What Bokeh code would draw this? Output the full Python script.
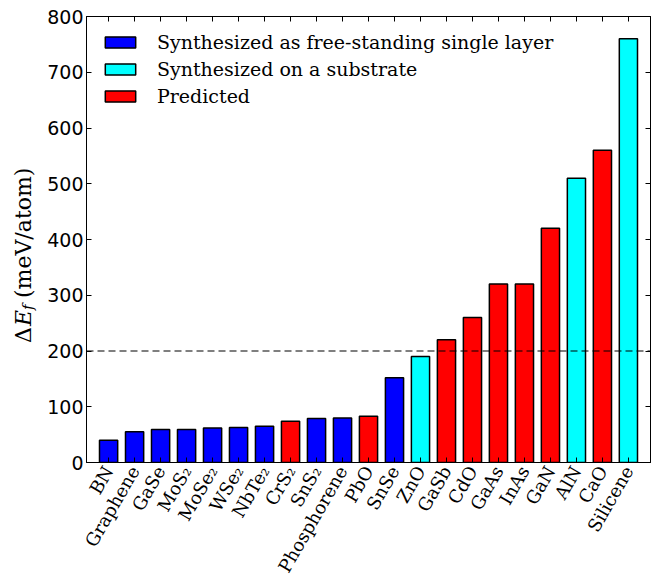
import math
from bokeh.plotting import figure
from bokeh.layouts import row
from bokeh.models import (ColumnDataSource, FixedTicker, LinearAxis, Span, Range1d,
                          Legend, LegendItem, CustomJSTickFormatter, Label)
from bokeh.embed import file_html
from bokeh.resources import INLINE

# Formation energy of 2D materials relative to their bulk counterparts
materials = ["BN", "Graphene", "GaSe", "MoS₂", "MoSe₂", "WSe₂", "NbTe₂", "CrS₂", "SnS₂",
             "Phosphorene", "PbO", "SnSe", "ZnO", "GaSb", "CdO", "GaAs", "InAs", "GaN",
             "AlN", "CaO", "Silicene"]
energies = [40, 55, 59, 59, 62, 63, 65, 74, 79, 80, 83, 152, 190, 220, 260, 320, 320,
            420, 510, 560, 760]
status = ["free", "free", "free", "free", "free", "free", "free", "pred", "free",
          "free", "pred", "free", "sub", "pred", "pred", "pred", "pred", "pred",
          "sub", "pred", "sub"]

groups = ["free", "sub", "pred"]
group_labels = ["Synthesized as free-standing single layer", "Synthesized on a substrate",
                "Predicted"]
group_colors = ["#0000ff", "#00ffff", "#ff0000"]

y_ticks = [0, 100, 200, 300, 400, 500, 600, 700, 800]
threshold = 200

H = 580
TITLE_W = 40
X0, X1 = -0.85, len(materials) - 1 + 0.85
Y0, Y1 = 0, 800

serif = "DejaVu Serif"
sans = "DejaVu Sans"

p = figure(frame_width=564, frame_height=446, output_backend="svg", toolbar_location=None,
           x_range=Range1d(X0, X1), y_range=Range1d(Y0, Y1),
           min_border_left=86 - TITLE_W, min_border_top=16, min_border_right=4,
           min_border_bottom=4)
p.xgrid.visible = False
p.ygrid.visible = False
p.outline_line_color = "black"
p.outline_line_width = 1
p.background_fill_color = "white"

items = []
for g, lab, col in zip(groups, group_labels, group_colors):
    xs = [i for i, s in enumerate(status) if s == g]
    ys = [energies[i] for i in xs]
    src = ColumnDataSource(dict(x=xs, top=ys))
    r = p.vbar(x="x", top="top", width=0.7, bottom=0, source=src, fill_color=col,
               line_color="black", line_width=1.5)
    items.append(LegendItem(label=lab, renderers=[r]))

p.add_layout(Span(location=threshold, dimension="width", line_color="black",
                  line_dash="7 4", line_width=1.2))

legend = Legend(items=items, location="top_left", border_line_alpha=0,
                background_fill_alpha=0, label_text_font=serif, label_text_color="black",
                label_text_font_size="19px", glyph_width=38, glyph_height=14,
                label_standoff=18, spacing=5, padding=8, margin=7, label_height=20)
p.add_layout(legend)

# bottom axis: material names
ax = p.xaxis[0]
ax.ticker = FixedTicker(ticks=list(range(len(materials))))
ax.major_label_overrides = {i: m for i, m in enumerate(materials)}
ax.major_label_orientation = math.pi / 3
ax.major_label_text_font = serif
ax.major_label_text_font_size = "18px"
ax.major_label_text_color = "black"
ax.major_tick_in = 5
ax.major_tick_out = 0
ax.minor_tick_line_color = None
ax.axis_line_color = "black"
ax.major_label_standoff = 5

ay = p.yaxis[0]
ay.ticker = FixedTicker(ticks=y_ticks)
ay.major_label_text_font = sans
ay.major_label_text_font_size = "19px"
ay.major_label_text_color = "black"
ay.major_tick_in = 5
ay.major_tick_out = 0
ay.minor_tick_line_color = None
ay.major_label_standoff = 3

# mirrored tick marks on the top and right edges, without labels
blank = CustomJSTickFormatter(code="return ''")
for side, tk in (("above", FixedTicker(ticks=list(range(len(materials))))),
                 ("right", FixedTicker(ticks=y_ticks))):
    a = LinearAxis(ticker=tk, formatter=blank, major_tick_in=5, major_tick_out=0,
                   minor_tick_line_color=None, major_label_standoff=0,
                   axis_line_color="black")
    p.add_layout(a, side)

# narrow strip holding the y-axis title; its data units are pixels
t = figure(frame_width=TITLE_W, frame_height=H, output_backend="svg",
           toolbar_location=None, x_range=Range1d(0, TITLE_W), y_range=Range1d(0, H),
           x_axis_location=None, y_axis_location=None, min_border=0,
           outline_line_color=None)
t.grid.visible = False

y_mid = H - 239            # vertical centre of the plot frame, measured from the bottom
base_x = 23
title_parts = ["Δ", "E", "f", "(meV/atom)"]
title_style = ["normal", "italic", "italic", "normal"]
title_size = ["22px", "22px", "15px", "22px"]
title_shift = [0, 0, 4, 0]
title_off = [0, 17, 33, 45]
total = 45 + 130
for txt, sty, sz, sh, off in zip(title_parts, title_style, title_size, title_shift, title_off):
    t.add_layout(Label(x=base_x + sh, y=y_mid - total / 2 + off, text=txt, angle=math.pi / 2,
                       text_font=serif, text_font_style=sty, text_font_size=sz,
                       text_baseline="alphabetic", text_align="left", text_color="black"))

layout = row(t, p, spacing=0)
open("out.html", "w").write(file_html(layout, INLINE))
